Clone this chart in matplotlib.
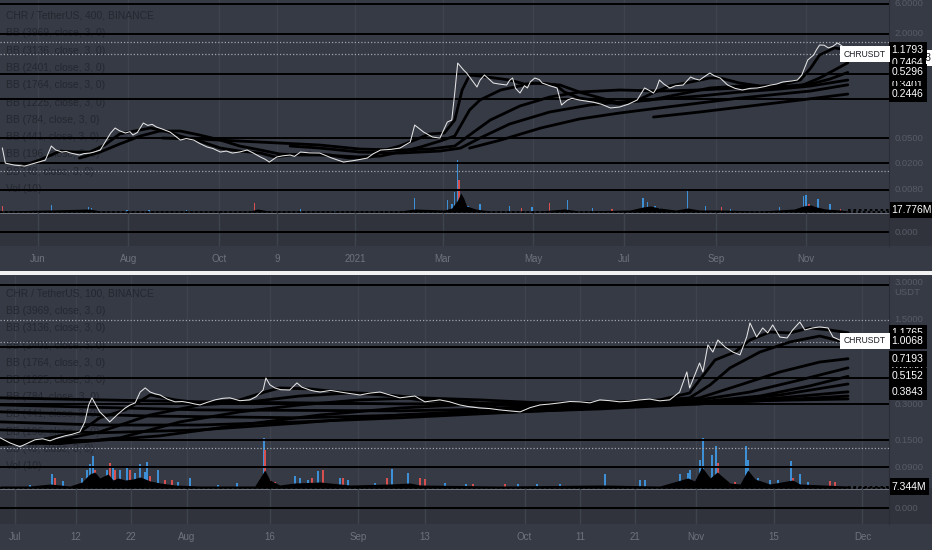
import numpy as np
import pandas as pd
import matplotlib
matplotlib.use("Agg")
import matplotlib.pyplot as plt
from matplotlib.patches import Rectangle
from matplotlib.ticker import NullLocator
import matplotlib.transforms as mtransforms

plt.rcParams["font.family"] = ["Liberation Sans", "DejaVu Sans"]

BG = "#363a45"
GRID = "#3f434e"
BAND = "#30333c"
LEGEND_C = "#24272e"
AXIS_C = "#6e727d"
SCALE_C = "#575b66"
UP = "#3d8fd6"
DOWN = "#d5504f"

bb_lengths = [3969, 3136, 2401, 1764, 1225, 784, 441, 196, 49]

# ---------------- upper chart: CHR/USDT 400 min, days from 2020-06-01 ----------------
top_start = "2020-06-01"
top_xlim = (-25.6, 573.8)
top_ylim = (0.00108, 7.03)
top_vlim = (-340, 2120)

top_price = [(-24, 0.0356), (-22, 0.0208), (-16, 0.0194), (-9, 0.0187), (-2, 0.0208), (5, 0.0232),
             (9, 0.0383), (12, 0.0332), (16, 0.0309), (22, 0.0298), (28, 0.0278), (35, 0.0298),
             (42, 0.0332), (49, 0.0609), (52, 0.0728), (59, 0.0609), (64, 0.0567), (71, 0.0870),
             (80, 0.0754), (89, 0.0631), (96, 0.0474), (105, 0.0474), (114, 0.0370), (123, 0.0309),
             (131, 0.0298), (141, 0.0332), (150, 0.0259), (156, 0.0216), (161, 0.0259), (170, 0.0278),
             (177, 0.0309), (190, 0.0298), (206, 0.0216), (222, 0.0249), (231, 0.0332), (244, 0.0356),
             (251, 0.0441), (254, 0.0810), (260, 0.0631), (266, 0.0528), (271, 0.0509), (276, 0.0902),
             (279, 0.0969), (281, 0.254), (283, 0.741), (287, 0.577), (291, 0.450), (296, 0.315),
             (301, 0.483), (307, 0.363), (316, 0.338), (320, 0.434), (325, 0.254), (330, 0.304),
             (335, 0.434), (340, 0.363), (350, 0.304), (353, 0.1655), (357, 0.1978), (365, 0.1978),
             (374, 0.184), (386, 0.149), (392, 0.154), (404, 0.198), (409, 0.304), (415, 0.254),
             (419, 0.404), (426, 0.304), (435, 0.338), (440, 0.450), (446, 0.404), (453, 0.519),
             (460, 0.434), (465, 0.338), (475, 0.283), (485, 0.304), (494, 0.338), (502, 0.376),
             (512, 0.404), (515, 0.483), (519, 0.825), (523, 0.987), (527, 1.41), (533, 1.27),
             (539, 1.515), (543, 1.31), (546, 1.1793)]
# smaller swings of the same line, read between the points above
top_price_swings = [(14, 0.0322), (19, 0.0315), (25, 0.0288), (31, 0.0292), (38, 0.0310),
                    (55, 0.0660), (62, 0.0640), (67, 0.0620), (74, 0.0800), (77, 0.0830),
                    (84, 0.0700), (92, 0.0560), (100, 0.0500), (109, 0.0420), (118, 0.0350),
                    (127, 0.0320), (136, 0.0310), (145, 0.0300), (153, 0.0240), (165, 0.0270),
                    (173, 0.0265), (183, 0.0300), (198, 0.0250), (214, 0.0230), (226, 0.0290),
                    (238, 0.0340), (289, 0.520), (293, 0.390), (298, 0.400), (304, 0.420),
                    (311, 0.350), (318, 0.400), (322, 0.300), (328, 0.330), (332, 0.380),
                    (338, 0.410), (345, 0.330), (360, 0.210), (370, 0.190), (380, 0.170),
                    (398, 0.170), (412, 0.280), (417, 0.300), (422, 0.350), (430, 0.330),
                    (438, 0.400), (443, 0.420), (449, 0.450), (456, 0.470), (470, 0.300),
                    (480, 0.300), (490, 0.320), (498, 0.350), (508, 0.390), (525, 1.20),
                    (530, 1.40), (536, 1.35), (541, 1.42), (545, 1.25)]

top_bb49 = [(-11, 0.0187), (1, 0.0232), (15, 0.0320), (25, 0.0309), (35, 0.0309), (45, 0.0397),
            (55, 0.0588), (65, 0.0654), (76, 0.0728), (86, 0.0654), (96, 0.0547), (109, 0.0457),
            (123, 0.0356), (136, 0.0320), (150, 0.0298), (160, 0.0259), (170, 0.0278), (183, 0.0298),
            (197, 0.0278), (210, 0.0249), (224, 0.0259), (234, 0.0332), (244, 0.0383), (254, 0.0474),
            (264, 0.0588), (274, 0.0609), (281, 0.0969), (286, 0.283), (291, 0.483), (298, 0.466),
            (308, 0.434), (318, 0.404), (328, 0.350), (339, 0.363), (349, 0.338), (355, 0.263),
            (365, 0.212), (379, 0.191), (392, 0.1715), (406, 0.205), (416, 0.263), (426, 0.326),
            (440, 0.376), (453, 0.434), (460, 0.434), (473, 0.363), (487, 0.326), (500, 0.338),
            (514, 0.404), (521, 0.620), (527, 0.987), (537, 1.27), (546, 1.18)]
top_bb196 = [(28, 0.0249), (42, 0.0309), (55, 0.0411), (69, 0.0547), (82, 0.0654), (96, 0.0654),
             (109, 0.0567), (123, 0.0474), (136, 0.0383), (150, 0.0332), (163, 0.0288), (177, 0.0278),
             (190, 0.0278), (204, 0.0268), (217, 0.0259), (231, 0.0268), (244, 0.0309), (258, 0.0370),
             (271, 0.0457), (281, 0.0547), (291, 0.1384), (298, 0.198), (312, 0.283), (334, 0.363),
             (352, 0.338), (367, 0.254), (392, 0.1778), (413, 0.198), (433, 0.245), (453, 0.304),
             (473, 0.326), (494, 0.315), (514, 0.326), (527, 0.434), (546, 0.7464)]
top_bb441 = [(84, 0.0509), (109, 0.0491), (136, 0.0457), (163, 0.0426), (190, 0.0397), (217, 0.0344),
             (244, 0.0332), (264, 0.0344), (281, 0.0383), (291, 0.0567), (305, 0.0969), (325, 0.160),
             (345, 0.220), (365, 0.263), (392, 0.283), (419, 0.273), (446, 0.283), (473, 0.304),
             (500, 0.315), (521, 0.350), (534, 0.419), (546, 0.5296)]
top_bb784 = [(170, 0.0383), (190, 0.0356), (217, 0.0309), (244, 0.0298), (271, 0.0320), (285, 0.0356),
             (298, 0.0509), (318, 0.0840), (345, 0.129), (372, 0.1655), (392, 0.184), (419, 0.205),
             (446, 0.228), (473, 0.263), (500, 0.293), (521, 0.326), (546, 0.404)]
top_bb1225 = [(291, 0.0356), (312, 0.0474), (339, 0.0728), (365, 0.1004), (392, 0.1244), (419, 0.149),
              (446, 0.1778), (473, 0.212), (500, 0.245), (521, 0.273), (546, 0.3401)]
top_bb1764 = [(415, 0.1078), (446, 0.1289), (480, 0.1597), (514, 0.198), (546, 0.2446)]

top_vol_up = [(9, 70), (34, 50), (36, 40), (60, 20), (75, 20), (100, 20), (120, 15), (177, 30),
              (200, 15), (254, 140), (276, 120), (279, 80), (281, 200), (283, 520), (290, 60),
              (298, 80), (318, 60), (333, 50), (357, 120), (374, 40), (408, 140), (411, 100),
              (416, 60), (419, 40), (438, 220), (450, 60), (467, 30), (500, 50), (516, 160),
              (518, 170), (526, 130), (534, 80)]
top_vol_down = [(-24, 60), (70, 15), (146, 90), (284, 320), (286, 100), (326, 40), (345, 90),
                (387, 30), (461, 50), (520, 80), (541, 30)]
top_vol_ma = [(-26, 10), (8, 20), (35, 30), (42, 10), (143, 10), (148, 30), (156, 10), (244, 10),
              (254, 30), (274, 20), (279, 40), (283, 120), (285, 190), (287, 140), (289, 60),
              (295, 30), (305, 10), (338, 10), (355, 30), (365, 10), (399, 20), (408, 50), (413, 60),
              (419, 40), (430, 20), (438, 40), (446, 20), (460, 20), (487, 10), (510, 30), (516, 60),
              (521, 70), (525, 50), (531, 30), (541, 20), (546, 10)]
top_last_vol = 17.776

top_levels = [6.10, 2.09, 0.505, 0.205, 0.0509, 0.0208, 0.0080, 0.00177]
top_dotted = [1.569, 1.022, 0.0157]
top_scale = [(6.10, "6.0000"), (2.09, "2.0000"), (0.0509, "0.0500"), (0.0208, "0.0200"),
             (0.0080, "0.0080"), (0.00177, "0.000")]
top_tags_back = [(0.404, "0.4040"), (0.7464, "0.7464"), (0.3401, "0.3401")]
top_tags_front = [(1.1793, "1.1793"), (0.5296, "0.5296"), (0.2446, "0.2446")]
top_ticks = ["2020-06-01", "2020-08-01", "2020-10-01", "2020-11-09", "2021-01-01", "2021-03-01",
             "2021-05-01", "2021-07-01", "2021-09-01", "2021-11-01"]
top_tick_labels = ["Jun", "Aug", "Oct", "9", "2021", "Mar", "May", "Jul", "Sep", "Nov"]

# ---------------- lower chart: CHR/USDT 100 min, days from 2021-07-01 ----------------
bot_start = "2021-07-01"
bot_xlim = (-2.71, 157.8)
bot_ylim = (0.03145, 3.448)
bot_vlim = (-180, 1060)

bot_price = [(-2.7, 0.161), (-0.9, 0.146), (0.9, 0.136), (3.6, 0.155), (6.3, 0.152), (9.0, 0.167),
             (11.7, 0.180), (12.6, 0.2175), (13.9, 0.343), (15.3, 0.263), (17.1, 0.2175), (19.9, 0.283),
             (21.7, 0.312), (22.6, 0.383), (23.5, 0.414), (24.4, 0.383), (26.2, 0.362), (28.9, 0.318),
             (31.6, 0.312), (33.4, 0.300), (36.1, 0.330), (38.8, 0.343), (42.4, 0.330), (44.8, 0.398),
             (45.3, 0.500), (46.9, 0.414), (49.6, 0.398), (50.9, 0.455), (53.2, 0.398), (55.1, 0.383),
             (58.7, 0.383), (62.3, 0.362), (65.9, 0.383), (69.5, 0.343), (72.2, 0.355), (74.0, 0.318),
             (76.7, 0.330), (80.3, 0.300), (83.9, 0.283), (87.5, 0.273), (91.2, 0.263), (94.8, 0.300),
             (98.4, 0.312), (102.0, 0.318), (105.6, 0.330), (109.2, 0.318), (112.8, 0.330),
             (116.4, 0.324), (120.0, 0.383), (121.3, 0.560), (121.8, 0.414), (123.6, 0.664),
             (124.2, 0.560), (125.1, 0.934), (126.0, 0.817), (126.9, 1.026), (128.2, 0.899),
             (129.6, 0.817), (130.9, 0.773), (132.1, 1.085), (132.7, 1.418), (133.9, 1.085),
             (135.0, 1.289), (135.9, 1.173), (136.8, 1.364), (138.1, 1.085), (139.4, 1.066),
             (140.4, 1.240), (141.7, 1.442), (142.6, 1.240), (144.0, 1.289), (145.3, 1.314),
             (146.8, 1.289), (147.7, 1.085), (148.9, 1.026), (149.8, 0.934), (150.4, 1.0068)]
bot_price_swings = [(1.8, 0.142), (5.0, 0.158), (7.6, 0.160), (10.3, 0.172), (13.3, 0.300),
                    (14.6, 0.300), (16.2, 0.240), (18.5, 0.250), (20.8, 0.300), (25.3, 0.370),
                    (27.5, 0.335), (30.2, 0.320), (32.5, 0.305), (34.7, 0.315), (37.5, 0.340),
                    (40.6, 0.325), (43.5, 0.350), (46.0, 0.440), (48.0, 0.400), (51.8, 0.420),
                    (54.0, 0.390), (57.0, 0.395), (60.5, 0.372), (64.0, 0.375), (67.7, 0.362),
                    (71.0, 0.350), (78.5, 0.318), (82.0, 0.290), (85.7, 0.280), (89.3, 0.268),
                    (93.0, 0.285), (96.6, 0.305), (100.2, 0.320), (103.8, 0.312), (107.4, 0.325),
                    (111.0, 0.322), (114.6, 0.335), (118.2, 0.330)]

bot_bb49 = [(-2.7, 0.149), (4.5, 0.155), (11.7, 0.180), (15.3, 0.235), (19.9, 0.273), (24.4, 0.362),
            (28.9, 0.330), (33.4, 0.312), (40.6, 0.330), (45.1, 0.383), (47.8, 0.414), (53.2, 0.406),
            (58.7, 0.383), (65.9, 0.369), (73.1, 0.330), (80.3, 0.312), (87.5, 0.283), (94.8, 0.294),
            (102.0, 0.312), (109.2, 0.318), (116.4, 0.330), (121.8, 0.376), (123.6, 0.481),
            (126.4, 0.703), (130.0, 0.817), (132.7, 1.026), (136.3, 1.193), (139.9, 1.173),
            (143.5, 1.289), (147.1, 1.240), (150.4, 1.1765)]
bot_bb196 = [(-2.7, 0.141), (6.3, 0.149), (15.3, 0.180), (24.4, 0.248), (33.4, 0.300), (42.4, 0.318),
             (51.4, 0.355), (60.5, 0.376), (69.5, 0.355), (78.5, 0.324), (87.5, 0.300), (96.6, 0.300),
             (105.6, 0.312), (114.6, 0.324), (121.8, 0.343), (125.5, 0.438), (129.1, 0.605),
             (134.5, 0.817), (139.9, 0.988), (145.3, 1.106), (150.4, 0.97)]
bot_bb441 = [(-2.7, 0.146), (8.1, 0.144), (19.0, 0.161), (29.8, 0.2175), (40.6, 0.263), (51.4, 0.300),
             (62.3, 0.330), (73.1, 0.343), (83.9, 0.330), (94.8, 0.312), (105.6, 0.306), (116.4, 0.318),
             (123.6, 0.343), (130.9, 0.438), (138.1, 0.560), (145.3, 0.676), (150.4, 0.7193)]
bot_bb784 = [(-2.7, 0.155), (11.7, 0.149), (26.2, 0.167), (40.6, 0.205), (55.1, 0.248), (69.5, 0.283),
             (83.9, 0.306), (98.4, 0.312), (112.8, 0.318), (123.6, 0.330), (132.7, 0.383),
             (141.7, 0.481), (150.4, 0.605)]
bot_bb1225 = [(-2.7, 0.187), (15.3, 0.177), (33.4, 0.187), (51.4, 0.213), (69.5, 0.248), (87.5, 0.273),
              (105.6, 0.300), (123.6, 0.318), (134.5, 0.355), (143.5, 0.430), (150.4, 0.5152)]
bot_bb1764 = [(-2.7, 0.2175), (15.3, 0.205), (33.4, 0.205), (51.4, 0.2175), (69.5, 0.235),
              (87.5, 0.258), (105.6, 0.283), (123.6, 0.312), (138.1, 0.362), (150.4, 0.446)]
bot_bb2401 = [(-2.7, 0.263), (24.4, 0.243), (51.4, 0.235), (78.5, 0.253), (105.6, 0.278),
              (123.6, 0.306), (138.1, 0.343), (150.4, 0.3843)]
bot_bb3136 = [(-2.7, 0.300), (33.4, 0.273), (69.5, 0.268), (105.6, 0.289), (123.6, 0.306),
              (138.1, 0.330), (150.4, 0.355)]
bot_bb3969 = [(-2.7, 0.343), (33.4, 0.318), (69.5, 0.306), (105.6, 0.306), (150.4, 0.336)]

bot_vol_up = [(2.7, 15), (6.7, 70), (8.7, 35), (12.1, 50), (13.0, 90), (13.5, 120), (14.1, 160),
              (16.6, 90), (17.7, 110), (19.0, 90), (20.2, 100), (21.7, 75), (22.6, 120), (23.5, 80),
              (23.8, 130), (25.8, 90), (29.4, 30), (31.6, 50), (36.6, 15), (40.1, 25), (44.9, 250),
              (50.5, 60), (51.4, 50), (52.9, 40), (54.7, 85), (58.7, 50), (60.1, 40), (65.0, 25),
              (68.1, 95), (70.9, 75), (77.6, 25), (81.4, 20), (90.8, 20), (94.2, 20), (98.4, 20),
              (106.5, 70), (112.8, 40), (113.7, 40), (120.0, 70), (121.5, 75), (121.8, 90),
              (123.6, 140), (124.2, 250), (125.8, 165), (126.5, 210), (128.2, 40), (132.0, 210),
              (132.3, 140), (134.1, 50), (136.3, 40), (137.7, 40), (140.1, 135), (141.7, 70),
              (143.1, 30)]
bot_vol_down = [(7.2, 50), (14.4, 90), (17.1, 125), (18.1, 90), (20.8, 90), (24.4, 60), (27.1, 40),
                (28.3, 40), (45.2, 190), (46.0, 40), (46.9, 30), (53.6, 50), (55.6, 90), (59.2, 50),
                (67.1, 50), (73.1, 50), (74.0, 45), (82.7, 20), (88.4, 20), (126.9, 125), (130.0, 30),
                (133.0, 50), (140.4, 50), (147.1, 35), (148.0, 30)]
bot_vol_ma = [(-2.7, 10), (2.7, 10), (6.3, 20), (9.9, 10), (12.1, 30), (13.5, 70), (14.4, 80),
              (15.3, 50), (16.8, 70), (17.7, 40), (18.6, 50), (19.9, 40), (21.3, 45), (22.6, 55),
              (24.4, 35), (26.2, 25), (28.9, 15), (33.4, 10), (43.3, 10), (45.1, 90), (46.0, 40),
              (47.8, 15), (50.5, 25), (55.1, 30), (56.9, 25), (60.5, 15), (67.7, 20), (71.3, 25),
              (73.1, 15), (87.5, 10), (106.5, 15), (116.4, 10), (121.5, 50), (122.7, 35), (124.0, 105),
              (125.5, 50), (126.8, 80), (127.6, 60), (129.1, 25), (130.9, 20), (132.3, 90),
              (133.6, 45), (136.3, 20), (140.4, 40), (141.7, 20), (150.4, 10)]
bot_last_vol = 7.344

bot_levels = [2.908, 0.899, 0.500, 0.306, 0.155, 0.0925, 0.0425]
bot_dotted = [1.499, 0.988, 0.133]
bot_scale = [(3.02, "3.0000"), (2.50, "USDT"), (1.5, "1.5000"), (0.30, "0.3000"), (0.152, "0.1500"),
             (0.0925, "0.0900"), (0.0425, "0.000")]
bot_tags_back = [(1.1765, "1.1765"), (0.605, "0.6050"), (0.446, "0.4460")]
bot_tags_front = [(1.0068, "1.0068"), (0.7193, "0.7193"), (0.5152, "0.5152"), (0.3843, "0.3843")]
bot_ticks = ["2021-07-01", "2021-07-12", "2021-07-22", "2021-08-01", "2021-08-16", "2021-09-01",
             "2021-09-13", "2021-10-01", "2021-10-11", "2021-10-21", "2021-11-01", "2021-11-15",
             "2021-12-01"]
bot_tick_labels = ["Jul", "12", "22", "Aug", "16", "Sep", "13", "Oct", "11", "21", "Nov", "15", "Dec"]

W, H = 932, 550


def px_box(x0, y0, x1, y1):
    return [x0 / W, 1 - y1 / H, (x1 - x0) / W, (y1 - y0) / H]


def dates(start, days):
    return pd.Timestamp(start) + pd.to_timedelta(np.asarray(days, dtype=float), unit="D")


def split(pairs):
    d, v = zip(*sorted(pairs))
    return list(d), list(v)


def tag(ax, items, fc, tc, z, x=1.003, size=7.5):
    for val, txt in items:
        ax.text(x, val, txt, transform=ax.get_yaxis_transform(), ha="left", va="center",
                fontsize=size, color=tc, zorder=z, clip_on=False,
                bbox=dict(boxstyle="square,pad=0.3", fc=fc, ec="none"))


def panel(fig, rect, start, xlim, ylim, vlim, price, bbs, vol_up, vol_down, vol_ma, bar_w,
          last_vol, levels, dotted, scale, tags_back, tags_front, sym_level, ticks, tick_labels,
          title, legend_top, legend_step):
    ax_v = fig.add_axes(rect)
    ax_p = fig.add_axes(rect, sharex=ax_v)
    ax_v.set_zorder(1)
    ax_p.set_zorder(2)
    for a in (ax_v, ax_p):
        a.patch.set_visible(False)
        for s in a.spines.values():
            s.set_visible(False)
    ax_p.spines["right"].set_visible(True)
    ax_p.spines["right"].set_color("#2a2d35")

    # band under the volume zero line, over the full width
    blend = mtransforms.blended_transform_factory(fig.transFigure, ax_v.transData)
    fig.add_artist(Rectangle((0, vlim[0]), 1, -vlim[0], transform=blend, fc=BAND, ec="none",
                             zorder=0.5))

    ax_v.set_ylim(*vlim)
    d, v = split(vol_up)
    ax_v.bar(dates(start, d), v, width=bar_w, color=UP, lw=0, zorder=2)
    d, v = split(vol_down)
    ax_v.bar(dates(start, d), v, width=bar_w, color=DOWN, lw=0, zorder=2)
    d, v = split(vol_ma)
    ax_v.fill_between(dates(start, d), 0, v, color="black", lw=0, zorder=3)
    ax_v.axhline(0, color="black", lw=1.3, ls=(0, (1.5, 1.2)), zorder=3)
    ax_v.axhline(vlim[1] * -0.004, color="#8a909c", lw=0.5, zorder=1)
    ax_v.hlines(last_vol, dates(start, [d[-1]])[0], dates(start, [xlim[1]])[0], color="black",
                lw=1.3, ls=(0, (1.5, 1.5)), zorder=3)
    ax_v.text(1.003, last_vol, f"{last_vol:.3f}M", transform=ax_v.get_yaxis_transform(),
              ha="left", va="center", fontsize=7.5, color="white", clip_on=False, zorder=6,
              bbox=dict(boxstyle="square,pad=0.3", fc="black", ec="none"))

    ax_p.set_yscale("log")
    ax_p.set_ylim(*ylim)
    ax_p.set_xlim(dates(start, [xlim[0]])[0], dates(start, [xlim[1]])[0])
    ax_p.set_yticks([])
    ax_p.yaxis.set_minor_locator(NullLocator())
    ax_p.set_xticks(pd.to_datetime(ticks))
    ax_p.set_xticklabels(tick_labels)
    ax_p.xaxis.set_minor_locator(NullLocator())
    ax_p.tick_params(axis="x", length=0, pad=6, labelsize=7, labelcolor=AXIS_C)
    ax_v.tick_params(axis="both", length=0, labelbottom=False, labelleft=False)
    ax_v.set_yticks([])
    ax_v.grid(axis="x", color=GRID, lw=1.0)

    for lv in levels:
        ax_p.axhline(lv, color="black", lw=1.4, zorder=2)
    for lv in dotted:
        ax_p.axhline(lv, color="#a0a4ad", lw=0.9, ls=(0, (1, 1.6)), zorder=2)

    for line in bbs:
        d, v = split(line)
        ax_p.plot(dates(start, d), v, color="black", lw=2.0, solid_capstyle="round", zorder=3)
    d, v = split(price)
    ax_p.plot(dates(start, d), v, color="#e4e4e4", lw=0.75, zorder=4)

    # legend lines, drawn faintly like the screenshot
    names = [title] + [f"BB ({n}, close, 3, 0)" for n in bb_lengths] + ["Vol (10)"]
    hpx = rect[3] * H
    for i, name in enumerate(names):
        ax_p.text(6 / (rect[2] * W), 1 - (legend_top + i * legend_step) / hpx, name,
                  transform=ax_p.transAxes, ha="left", va="center", fontsize=7.4, color=LEGEND_C,
                  zorder=1)

    for val, txt in scale:
        ax_p.text(1.006, val, txt, transform=ax_p.get_yaxis_transform(), ha="left", va="center",
                  fontsize=6.8, color=SCALE_C, clip_on=False, zorder=1)
    tag(ax_p, tags_back, "black", "white", 5)
    tag(ax_p, tags_front, "black", "white", 6)
    ax_p.text(0.9965, sym_level, "CHRUSDT", transform=ax_p.get_yaxis_transform(), ha="right",
              va="center", fontsize=6.2, color="#1c1e24", zorder=6, clip_on=False,
              bbox=dict(boxstyle="square,pad=0.45", fc="white", ec="none"))
    return ax_v, ax_p


fig = plt.figure(figsize=(W / 100, H / 100), dpi=100, facecolor=BG)

ax_tv, ax_tp = panel(fig, px_box(0, 0, 889, 246), top_start, top_xlim, top_ylim, top_vlim,
                     top_price + top_price_swings,
                     [top_bb1764, top_bb1225, top_bb784, top_bb441, top_bb196, top_bb49],
                     top_vol_up, top_vol_down, top_vol_ma, 1.0, top_last_vol, top_levels,
                     top_dotted, top_scale, top_tags_back, top_tags_front, top_dotted[1],
                     top_ticks, top_tick_labels, "CHR / TetherUS, 400, BINANCE", 16, 17.3)
# white sliver of a price tag peeking out at the right edge
ax_tp.text(1.012, 0.886, "0.9923", transform=ax_tp.get_yaxis_transform(), ha="left", va="center",
           fontsize=7.5, color="#1c1e24", zorder=4, clip_on=False,
           bbox=dict(boxstyle="square,pad=0.3", fc="white", ec="none"))

ax_bv, ax_bp = panel(fig, px_box(0, 276, 889, 524), bot_start, bot_xlim, bot_ylim, bot_vlim,
                     bot_price + bot_price_swings,
                     [bot_bb3969, bot_bb3136, bot_bb2401, bot_bb1764, bot_bb1225,
                      bot_bb784, bot_bb441, bot_bb196, bot_bb49],
                     bot_vol_up, bot_vol_down, bot_vol_ma, 0.35, bot_last_vol, bot_levels,
                     bot_dotted, bot_scale, bot_tags_back, bot_tags_front, bot_tags_front[0][0],
                     bot_ticks, bot_tick_labels, "CHR / TetherUS, 100, BINANCE", 18, 17.2)

# white divider between the two screenshots
fig.add_artist(Rectangle((0, 1 - 275 / H), 1, 4 / H, transform=fig.transFigure, fc="#f2f2f2",
                         ec="none", zorder=10))

fig.savefig("out.png", dpi=100, facecolor=BG)
